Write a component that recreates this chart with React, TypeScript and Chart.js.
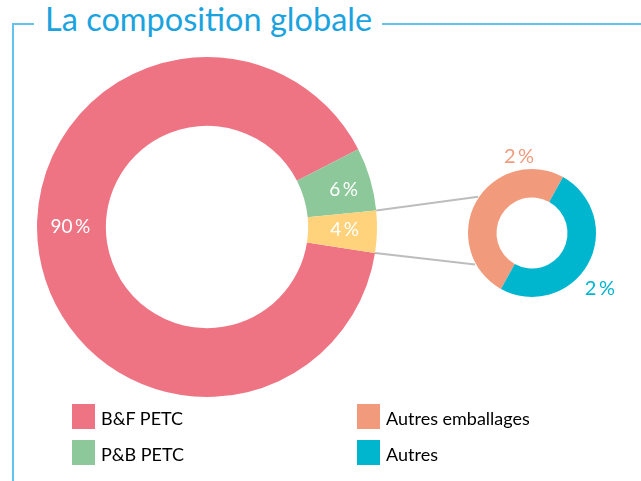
import React, { useEffect, useRef } from 'react';
import { Chart, registerables } from 'chart.js';

Chart.register(...registerables);

// ---- data ----
const titleText = 'La composition globale';
const mainLabels = ['B&F PETC', 'P&B PETC', 'Autres (emballages + autres)'];
const mainValues = [90, 6, 4];
const mainColors = ['#EF7483', '#8DC89A', '#FFD27B'];
const detailLabels = ['Autres emballages', 'Autres'];
const detailValues = [2, 2];
const detailColors = ['#F19B7C', '#00B6CF'];
const legendLabels = ['B&F PETC', 'P&B PETC', 'Autres emballages', 'Autres'];
const legendColors = ['#EF7483', '#8DC89A', '#F19B7C', '#00B6CF'];

const FONT = "Lato, 'Open Sans', sans-serif";

const pct = (v: number) => `${v}\u2009%`;

const arcLabelPlugin = {
  id: 'arcLabels',
  afterDatasetsDraw(chart: any, _args: any, opts: any) {
    const ctx = chart.ctx;
    const meta = chart.getDatasetMeta(0);
    const values = chart.data.datasets[0].data;
    const items = opts.items || [];
    ctx.save();
    ctx.textAlign = 'center';
    ctx.textBaseline = 'middle';
    ctx.font = `${opts.size}px ${FONT}`;
    meta.data.forEach((arc: any, i: number) => {
      const p = arc.getProps(['x', 'y', 'startAngle', 'endAngle', 'innerRadius', 'outerRadius'], true);
      const it = items[i] || {};
      const angle = it.angle !== undefined ? (it.angle * Math.PI) / 180 : (p.startAngle + p.endAngle) / 2;
      const r = it.ring === 'mid' ? (p.innerRadius + p.outerRadius) / 2 + (it.dr || 0) : p.outerRadius + (it.dr || 0);
      ctx.fillStyle = it.color || '#fff';
      ctx.fillText(pct(values[i]), p.x + r * Math.cos(angle), p.y + r * Math.sin(angle));
    });
    ctx.restore();
  },
};

export default function App() {
  const mainRef = useRef<HTMLCanvasElement>(null);
  const detailRef = useRef<HTMLCanvasElement>(null);
  const linesRef = useRef<HTMLCanvasElement>(null);

  useEffect(() => {
    const main = new Chart(mainRef.current!, {
      type: 'doughnut',
      data: {
        labels: mainLabels,
        datasets: [{ data: mainValues, backgroundColor: mainColors, borderWidth: 0, hoverOffset: 0 }],
      },
      options: {
        responsive: false,
        maintainAspectRatio: false,
        animation: false,
        events: [],
        radius: 170,
        cutout: '59.5%',
        rotation: 98.8,
        layout: { padding: 0 },
        plugins: {
          legend: { display: false },
          tooltip: { enabled: false },
          arcLabels: {
            size: 19,
            items: [
              { angle: 180, ring: 'mid', dr: 1, color: '#ffffff' },
              { angle: -15.2, ring: 'mid', dr: 6, color: '#ffffff' },
              { angle: 1, ring: 'mid', dr: 2, color: '#ffffff' },
            ],
          },
        } as any,
      },
      plugins: [arcLabelPlugin],
    });

    const detail = new Chart(detailRef.current!, {
      type: 'doughnut',
      data: {
        labels: detailLabels,
        datasets: [{ data: detailValues, backgroundColor: detailColors, borderWidth: 0, hoverOffset: 0 }],
      },
      options: {
        responsive: false,
        maintainAspectRatio: false,
        animation: false,
        events: [],
        radius: 64,
        cutout: '55.5%',
        rotation: 209,
        layout: { padding: 0 },
        plugins: {
          legend: { display: false },
          tooltip: { enabled: false },
          arcLabels: {
            size: 20,
            items: [
              { angle: -99.6, ring: 'outer', dr: 14, color: detailColors[0] },
              { angle: 39.5, ring: 'outer', dr: 24, color: detailColors[1] },
            ],
          },
        } as any,
      },
      plugins: [arcLabelPlugin],
    });

    // connector lines from the "autres" slice to the detail doughnut
    const lc = linesRef.current!;
    const ctx = lc.getContext('2d')!;
    ctx.clearRect(0, 0, lc.width, lc.height);
    const mc = mainRef.current!;
    const dc = detailRef.current!;
    const a = (main.getDatasetMeta(0).data[2] as any).getProps(['x', 'y', 'startAngle', 'endAngle', 'outerRadius'], true);
    const d = (detail.getDatasetMeta(0).data[0] as any).getProps(['x', 'y', 'outerRadius'], true);
    const targetAngles = [-146, 151].map((t) => (t * Math.PI) / 180);
    const starts = [a.startAngle, a.endAngle];
    ctx.strokeStyle = '#BDBDBD';
    ctx.lineWidth = 2;
    starts.forEach((ang: number, i: number) => {
      const x1 = mc.offsetLeft + a.x + a.outerRadius * Math.cos(ang);
      const y1 = mc.offsetTop + a.y + a.outerRadius * Math.sin(ang);
      const x2 = dc.offsetLeft + d.x + (d.outerRadius + 1) * Math.cos(targetAngles[i]);
      const y2 = dc.offsetTop + d.y + (d.outerRadius + 1) * Math.sin(targetAngles[i]);
      ctx.beginPath();
      ctx.moveTo(x1, y1);
      ctx.lineTo(x2, y2);
      ctx.stroke();
    });

    return () => {
      main.destroy();
      detail.destroy();
    };
  }, []);

  const lineColor = '#62C3EC';

  return (
    <div
      style={{
        position: 'absolute',
        left: 0,
        top: 0,
        width: 641,
        height: 481,
        background: '#fff',
        overflow: 'hidden',
        fontFamily: FONT,
      }}
    >
      {/* frame */}
      <div style={{ position: 'absolute', left: 12, top: 23, width: 22, height: 2, background: lineColor }} />
      <div style={{ position: 'absolute', left: 12, top: 23, width: 2, height: 470, background: lineColor }} />
      <div style={{ position: 'absolute', left: 382, top: 23, width: 270, height: 2, background: lineColor }} />
      <div
        style={{
          position: 'absolute',
          left: 45,
          top: 3,
          fontSize: 32.5,
          lineHeight: '32.5px',
          color: '#1BA3DF',
          whiteSpace: 'nowrap',
        }}
      >
        {titleText}
      </div>

      <canvas ref={linesRef} width={641} height={481} style={{ position: 'absolute', left: 0, top: 0, zIndex: 0 }} />
      <canvas ref={mainRef} width={360} height={360} style={{ position: 'absolute', left: 27, top: 47, zIndex: 1 }} />
      <canvas ref={detailRef} width={180} height={180} style={{ position: 'absolute', left: 442, top: 143, zIndex: 1 }} />

      {/* legend */}
      <div
        style={{
          position: 'absolute',
          left: 72,
          top: 404,
          display: 'grid',
          gridTemplateColumns: '285px 200px',
          gridTemplateRows: '36px 36px',
          gridAutoFlow: 'column',
          zIndex: 2,
        }}
      >
        {legendLabels.map((l, i) => (
          <div key={l} style={{ display: 'flex', alignItems: 'flex-start' }}>
            <div style={{ width: 23, height: 25, background: legendColors[i] }} />
            <div
              style={{
                marginLeft: 6,
                fontSize: 18,
                lineHeight: '25px',
                paddingTop: 2,
                color: '#000',
                whiteSpace: 'nowrap',
              }}
            >
              {l}
            </div>
          </div>
        ))}
      </div>
    </div>
  );
}
